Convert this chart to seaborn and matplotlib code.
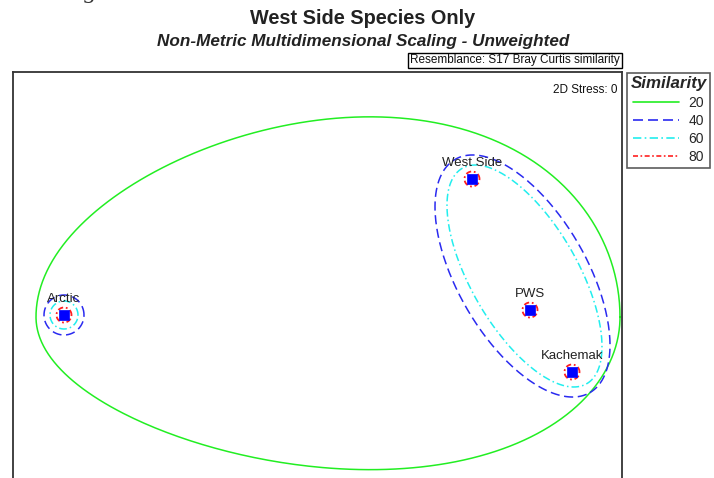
import numpy as np
import pandas as pd
import matplotlib
matplotlib.use("Agg")
import matplotlib.pyplot as plt
from matplotlib.lines import Line2D
import seaborn as sns

# MDS ordination (arbitrary units, y up)
sites = ["Arctic", "West Side", "PWS", "Kachemak"]
mds_x = [-2.54, 1.54, 2.12, 2.54]
mds_y = [-0.15, 1.21, -0.10, -0.72]

# similarity contours
levels = ["20", "40", "60", "80"]
level_colors = ["#22ee22", "#2a2af0", "#22eeee", "#ff2020"]
level_styles = ["-", (0, (6, 3)), (0, (5, 2, 1, 2)), (0, (3, 1.5, 1, 1.5))]

# 20%: one egg shaped curve round all sites
egg_cx, egg_cy, egg_a = 0.10, -0.17, 2.92
egg_btop, egg_bbot, egg_k = 1.98, 1.51, 0.15

# 40% and 60%: ellipse round the Alaska group plus circle round Arctic
group_cx = [2.045, 2.065]
group_cy = [0.24, 0.24]
group_a = [1.347, 1.244]
group_b = [0.645, 0.534]
group_angle = [-60, -60]
arctic_r = [0.20, 0.14]
# 80%: small circle round every site
site_r = 0.075


def ellipse(cx, cy, a, b, ang, n=300):
    t = np.linspace(0, 2 * np.pi, n)
    phi = np.deg2rad(ang)
    x = a * np.cos(t)
    y = b * np.sin(t)
    return cx + x * np.cos(phi) - y * np.sin(phi), cy + x * np.sin(phi) + y * np.cos(phi)


def egg(n=400):
    t = np.linspace(0, 2 * np.pi, n)
    s = np.sin(t) * (1 + egg_k * np.cos(t))
    y = np.where(s > 0, egg_cy + egg_btop * s, egg_cy + egg_bbot * s)
    return egg_cx + egg_a * np.cos(t), y


def draw(ax, x, y, i, lw=1.1):
    df = pd.DataFrame({"x": x, "y": y})
    sns.lineplot(data=df, x="x", y="y", sort=False, estimator=None, ax=ax,
                 color=level_colors[i], linestyle=level_styles[i], linewidth=lw)


sns.set_theme(style="white")
plt.rcParams["font.family"] = ["Liberation Sans", "DejaVu Sans"]

fig = plt.figure(figsize=(7.14, 4.78), dpi=100)
ax = fig.add_axes([13 / 714, -12 / 478, 609 / 714, 418 / 478])

ex, ey = egg()
draw(ax, ex, ey, 0)
for j in range(2):
    x, y = ellipse(group_cx[j], group_cy[j], group_a[j], group_b[j], group_angle[j])
    draw(ax, x, y, j + 1)
    x, y = ellipse(mds_x[0], mds_y[0], arctic_r[j], arctic_r[j], 0)
    draw(ax, x, y, j + 1)
for sx, sy in zip(mds_x, mds_y):
    x, y = ellipse(sx, sy, site_r, site_r, 0, n=80)
    draw(ax, x, y, 3, lw=1.3)

pts = pd.DataFrame({"site": sites, "x": mds_x, "y": mds_y})
sns.scatterplot(data=pts, x="x", y="y", marker="s", s=55, color="#0000ff",
                edgecolor="#0000ff", linewidth=0.5, ax=ax, zorder=5)
for s, x, y in zip(sites, mds_x, mds_y):
    ax.text(x, y + 0.10, s, ha="center", va="bottom", fontsize=9.5, color="#222222")

ax.set_xlim(-3.05, 3.04)
ax.set_ylim(-1.90, 2.28)
ax.set_xticks([])
ax.set_yticks([])
ax.set_xlabel("")
ax.set_ylabel("")
for sp in ax.spines.values():
    sp.set_color("#333333")
    sp.set_linewidth(1.3)

ax.text(0.992, 0.972, "2D Stress: 0", transform=ax.transAxes, ha="right", va="top",
        fontsize=8.5, color="#111111")

fig.text(362.5 / 714, 1 - 18.5 / 478, "West Side Species Only", ha="center", va="center",
         fontsize=14.3, fontweight="bold", color="#222222")
fig.text(363 / 714, 1 - 41.5 / 478, "Non-Metric Multidimensional Scaling - Unweighted",
         ha="center", va="center", fontsize=12.3, fontweight="bold", style="italic",
         color="#222222")
fig.text(620 / 714, 1 - 60.5 / 478, "Resemblance: S17 Bray Curtis similarity",
         ha="right", va="center", fontsize=8.5, color="#111111",
         bbox=dict(boxstyle="square,pad=0.15", fc="white", ec="black", lw=1))
fig.text(20 / 714, 1 + 2 / 478, "Unweighted", ha="left", va="baseline", fontsize=18,
         family="Liberation Serif", style="italic", color="#333333")

handles = [Line2D([0], [0], color=c, linestyle=ls, linewidth=1.2)
           for c, ls in zip(level_colors, level_styles)]
leg = fig.legend(handles, levels, title="Similarity", loc="upper left",
                 bbox_to_anchor=(627 / 714, 1 - 73 / 478), borderaxespad=0,
                 frameon=True, fancybox=False, fontsize=10, handlelength=3.3,
                 borderpad=0.25, labelspacing=0.3, handletextpad=0.7)
leg.get_title().set_fontweight("bold")
leg.get_title().set_style("italic")
leg.get_title().set_fontsize(12.2)
leg.get_frame().set_edgecolor("#333333")
leg.get_frame().set_linewidth(1.2)

fig.savefig("out.png", dpi=100)
